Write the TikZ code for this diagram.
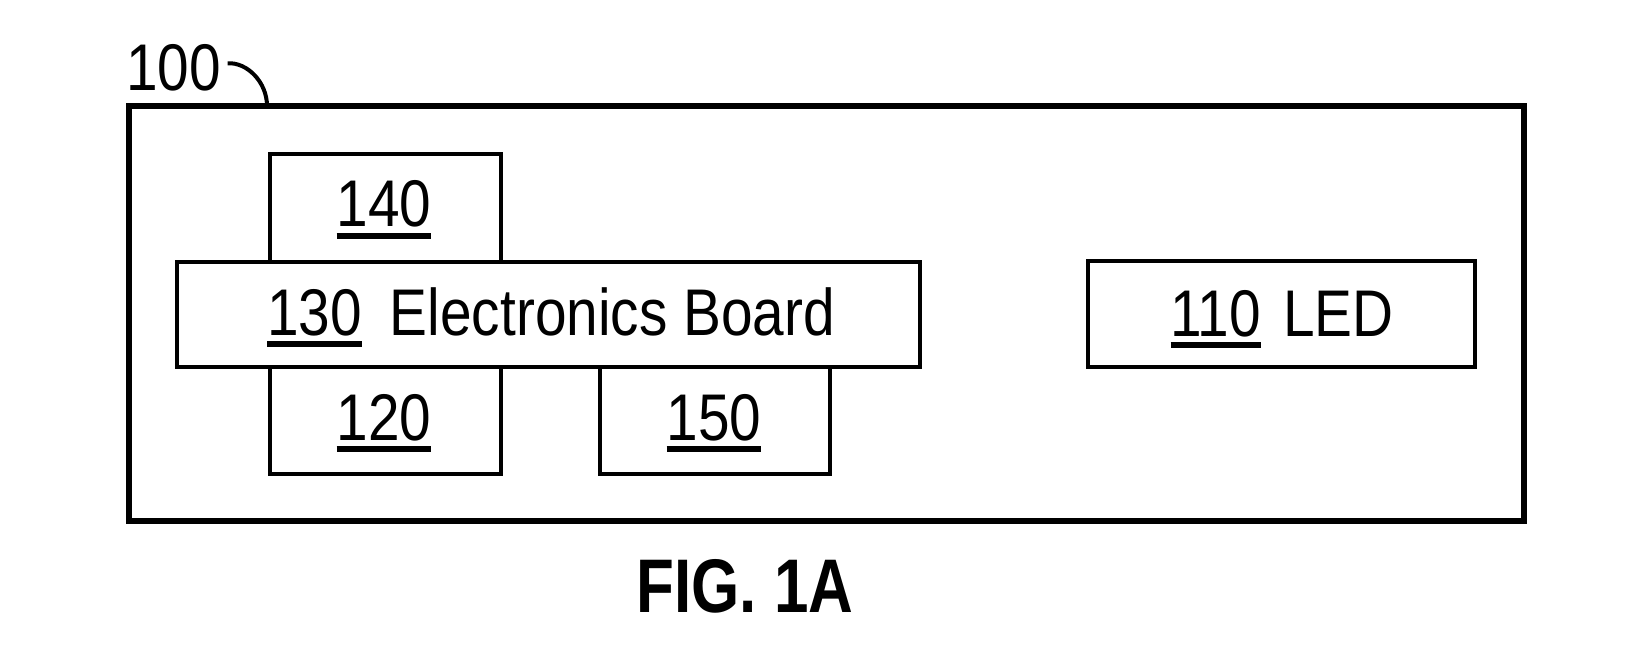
\documentclass[tikz,border=0pt]{standalone}
\usepackage{fontspec}
\newfontfamily\narrowfont[FakeStretch=0.86]{Liberation Sans}
\newfontfamily\narrowbold[FakeStretch=0.815]{Liberation Sans Bold}
\newcommand\refnum[1]{\leavevmode\vtop{\hbox{#1}\kern2.5pt\hrule height 3pt\relax}}
\begin{document}
\begin{tikzpicture}[x=0.5pt,y=-0.5pt,
  outerbox/.style={draw, line width=3.2pt, inner sep=0pt},
  part/.style={draw, line width=2pt, fill=white, inner sep=0pt},
  lbl/.style={font=\narrowfont\fontsize{33pt}{40pt}\selectfont, inner sep=0pt, anchor=base},
  lead/.style={line width=2pt},
  caption/.style={font=\narrowbold\fontsize{38pt}{46pt}\selectfont, inner sep=0pt, anchor=base}]
\useasboundingbox (0,0) rectangle (1636,652);
% outer housing
\node[outerbox, minimum width=697.5pt, minimum height=207.5pt] (housing) at (826.5,313.5) {};
% components
\node[part, minimum width=115.5pt, minimum height=54pt] (b140) at (385.5,208) {};
\node[part, minimum width=115.5pt, minimum height=53.5pt] (b120) at (385.5,420.5) {};
\node[part, minimum width=115pt, minimum height=53.5pt] (b150) at (715,420.5) {};
\node[part, minimum width=371.5pt, minimum height=52.5pt] (board) at (548.5,314.5) {};
\node[part, minimum width=193.5pt, minimum height=53pt] (led) at (1281.5,314) {};
% labels
\node[lbl] (t140) at (384,227) {\refnum{140}};
\node[lbl] (t120) at (384,440) {\refnum{120}};
\node[lbl] (t150) at (714,440) {\refnum{150}};
\node[lbl] (t130) at (551,335) {\refnum{130}\hspace{14pt}Electronics Board};
\node[lbl] (t110) at (1282,336) {\refnum{110}\hspace{11pt}LED};
\node[lbl, anchor=base west] (l100) at (126,91) {100};
\coordinate (c100) at (267,106);
\draw[lead] ([xshift=3pt,yshift=2.5pt]l100.east) .. controls (247,62) and (267,82) .. (c100);
% caption
\node[caption] (fig) at (745,612) {FIG. 1A};
\end{tikzpicture}
\end{document}
